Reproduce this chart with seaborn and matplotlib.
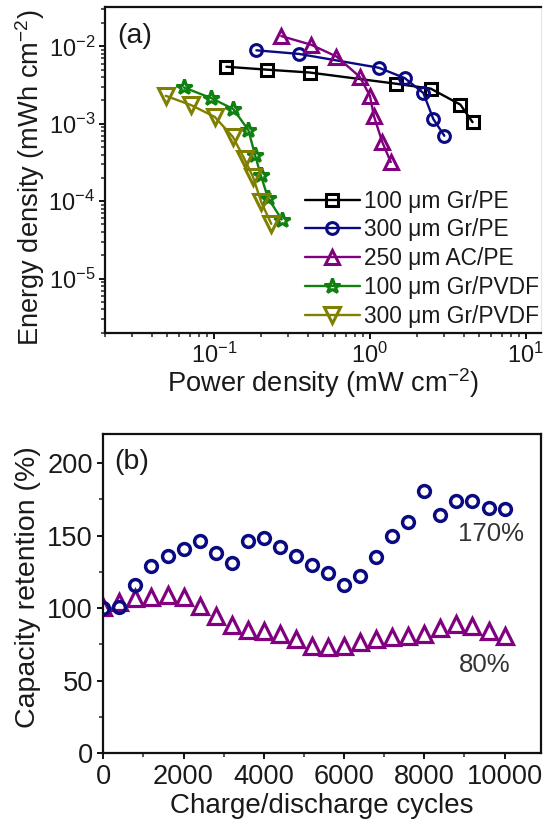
import numpy as np
import pandas as pd
import matplotlib
matplotlib.use("Agg")
import matplotlib.pyplot as plt
from matplotlib.ticker import MultipleLocator
import seaborn as sns

# ---------------- data: panel (a) Ragone plot ----------------
labels_a = ["100 \u03bcm Gr/PE", "300 \u03bcm Gr/PE", "250 \u03bcm AC/PE",
            "100 \u03bcm Gr/PVDF", "300 \u03bcm Gr/PVDF"]

p_gr100_pe = [0.12, 0.22, 0.41, 1.46, 2.45, 3.8, 4.55]
e_gr100_pe = [5.46e-3, 5.0e-3, 4.6e-3, 3.3e-3, 2.85e-3, 1.77e-3, 1.05e-3]

p_gr300_pe = [0.187, 0.35, 1.14, 1.67, 2.2, 2.55, 3.0]
e_gr300_pe = [8.9e-3, 8.0e-3, 5.3e-3, 3.9e-3, 2.5e-3, 1.15e-3, 7.0e-4]

p_ac250_pe = [0.27, 0.42, 0.61, 0.86, 1.0, 1.06, 1.2, 1.36]
e_ac250_pe = [1.36e-2, 1.05e-2, 7.4e-3, 4.05e-3, 2.3e-3, 1.26e-3, 5.8e-4, 3.2e-4]

p_gr100_pvdf = [0.064, 0.096, 0.133, 0.166, 0.183, 0.199, 0.222, 0.272]
e_gr100_pvdf = [2.95e-3, 2.15e-3, 1.55e-3, 8.3e-4, 4.0e-4, 2.2e-4, 1.1e-4, 5.8e-5]

p_gr300_pvdf = [0.049, 0.0715, 0.101, 0.132, 0.157, 0.178, 0.201, 0.233]
e_gr300_pvdf = [2.3e-3, 1.74e-3, 1.23e-3, 6.8e-4, 3.5e-4, 2.05e-4, 9.7e-5, 5.1e-5]

# ---------------- data: panel (b) cycling ----------------
cycles = [0, 400, 800, 1200, 1600, 2000, 2400, 2800, 3200, 3600, 4000, 4400, 4800,
          5200, 5600, 6000, 6400, 6800, 7200, 7600, 8000, 8400, 8800, 9200, 9600, 10000]
ret_gr300_pe = [100, 101, 116, 129, 136, 141, 146.5, 138, 131, 146.5, 148.5, 142, 136,
                130, 124.5, 116, 122.5, 135.5, 150, 159.5, 180.5, 164.5, 174, 174, 169, 168]
ret_ac250_pe = [101, 104.5, 107, 108, 109, 108, 101.5, 94.5, 88.5, 85, 84.5, 82.5, 78.5,
                74, 73, 74, 76.5, 78.5, 80, 80.5, 82, 86.5, 89, 87.5, 84, 81]

colors = ["#000000", "#0a0a82", "#800080", "#108010", "#808000"]
markers = ["s", "o", "^", "*", "v"]
msizes = [8, 8.5, 10, 11.5, 11]

# ---------------- style ----------------
sns.set_style("ticks")
plt.rcParams["font.family"] = ["Liberation Sans", "DejaVu Sans"]
plt.rcParams["mathtext.fontset"] = "custom"
plt.rcParams["mathtext.rm"] = "Liberation Sans"
plt.rcParams["mathtext.it"] = "Liberation Sans:italic"
plt.rcParams["mathtext.default"] = "regular"
plt.rcParams["axes.unicode_minus"] = False
TXT = "#1a1a1a"

fig = plt.figure(figsize=(5.43, 8.25), dpi=100)
axa = fig.add_axes([105 / 543, 1 - 332.7 / 825, 436 / 543, 325.4 / 825])
axb = fig.add_axes([103.3 / 543, 1 - 753.3 / 825, 437.4 / 543, 319.3 / 825])

# ---------------- panel (a) ----------------
axa.set_xscale("log")
axa.set_yscale("log")
series = [(p_gr100_pe, e_gr100_pe), (p_gr300_pe, e_gr300_pe), (p_ac250_pe, e_ac250_pe),
          (p_gr100_pvdf, e_gr100_pvdf), (p_gr300_pvdf, e_gr300_pvdf)]
for (px, ey), lab, c, m, ms in zip(series, labels_a, colors, markers, msizes):
    df = pd.DataFrame({"P": px, "E": ey})
    sns.lineplot(data=df, x="P", y="E", ax=axa, sort=False, estimator=None,
                 color=c, linewidth=1.7, marker=m, markersize=ms,
                 markerfacecolor="none", markeredgecolor=c, markeredgewidth=2.2,
                 label=lab)
axa.set_xlim(0.02, 12.5)
axa.set_ylim(2e-6, 3.2e-2)
axa.set_xlabel("Power density (mW cm$^{-2}$)", fontsize=19.6, color=TXT)
axa.set_ylabel("Energy density (mWh cm$^{-2}$)", fontsize=19.6, color=TXT)
axa.xaxis.set_label_coords(0.5, -0.104)
axa.yaxis.set_label_coords(-0.132, 0.475)
axa.tick_params(which="major", direction="out", length=4.5, width=1.3,
                labelsize=17, colors="#000000", labelcolor=TXT, pad=2.5)
axa.tick_params(which="minor", direction="out", length=2.6, width=1.1)
for s in ["left", "bottom", "top"]:
    axa.spines[s].set_linewidth(1.6)
    axa.spines[s].set_color("#111111")
axa.spines["right"].set_linewidth(0.8)
axa.spines["right"].set_color("#e4e4e4")
axa.text(0.027, 0.912, "(a)", transform=axa.transAxes, fontsize=20.5,
         ha="left", va="center", color=TXT)
leg = axa.legend(loc="upper left", bbox_to_anchor=(0.4587, 0.44), frameon=False,
                 fontsize=16.4, handlelength=2.4, handletextpad=0.2,
                 labelspacing=0.26, borderaxespad=0, borderpad=0)
for t in leg.get_texts():
    t.set_color(TXT)

# ---------------- panel (b) ----------------
df_b1 = pd.DataFrame({"cycles": cycles, "ret": ret_gr300_pe})
df_b2 = pd.DataFrame({"cycles": cycles, "ret": ret_ac250_pe})
sns.lineplot(data=df_b2, x="cycles", y="ret", ax=axb, sort=False, estimator=None,
             linestyle="", marker="^", markersize=11.5, color=colors[2],
             markerfacecolor="none", markeredgecolor=colors[2], markeredgewidth=2.3)
sns.lineplot(data=df_b1, x="cycles", y="ret", ax=axb, sort=False, estimator=None,
             linestyle="", marker="o", markersize=8.5, color=colors[1],
             markerfacecolor="none", markeredgecolor=colors[1], markeredgewidth=2.5)
axb.set_xlim(0, 10900)
axb.set_ylim(0, 220)
axb.xaxis.set_major_locator(MultipleLocator(2000))
axb.xaxis.set_minor_locator(MultipleLocator(1000))
axb.yaxis.set_major_locator(MultipleLocator(50))
axb.yaxis.set_minor_locator(MultipleLocator(25))
axb.set_xlabel("Charge/discharge cycles", fontsize=20, color=TXT)
axb.set_ylabel("Capacity retention (%)", fontsize=20.5, color=TXT)
axb.xaxis.set_label_coords(0.5, -0.124)
axb.yaxis.set_label_coords(-0.143, 0.519)
axb.tick_params(which="major", direction="out", length=4.5, width=1.3,
                labelsize=19.6, colors="#000000", labelcolor=TXT, pad=3)
axb.tick_params(which="minor", direction="out", length=2.6, width=1.1)
for s in ["left", "bottom", "top", "right"]:
    axb.spines[s].set_linewidth(1.6)
    axb.spines[s].set_color("#111111")
axb.text(0.0245, 0.913, "(b)", transform=axb.transAxes, fontsize=20.5,
         ha="left", va="center", color=TXT)
axb.text(9660, 151, "170%", fontsize=18.6, ha="center", va="center", color="#333333")
axb.text(9500, 61, "80%", fontsize=18.6, ha="center", va="center", color="#333333")

fig.savefig("out.png", dpi=100)
